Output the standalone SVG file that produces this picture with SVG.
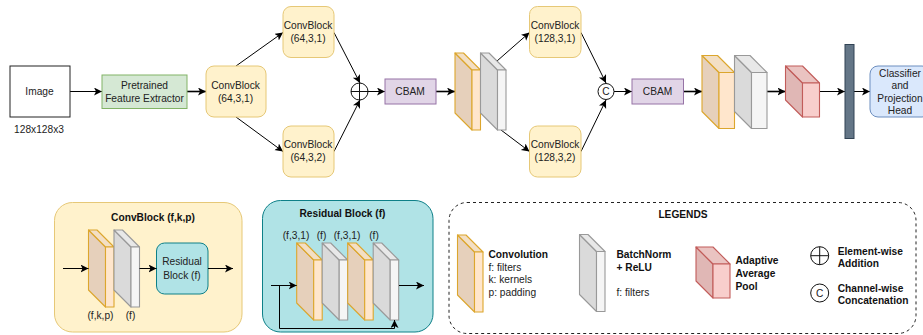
<svg xmlns="http://www.w3.org/2000/svg" width="923" height="335" viewBox="0 0 923 335">
<style>
text{font-family:"Liberation Sans",Arial,sans-serif;font-size:10.2px;fill:#222;text-anchor:middle}
.l{text-anchor:start}
.b{font-weight:bold;fill:#111}
.cb{fill:#fff2cc;stroke:#e6c877;stroke-width:1}
.line{fill:none;stroke:#000;stroke-width:1;marker-end:url(#a)}
.thick{stroke-width:1.6}
.co1{fill:#e6d0bb}.co2{fill:#f3dfc4}.co3{fill:#ffe6cc}
.co{stroke:#dca62d;stroke-width:1.1;stroke-linejoin:round}
.gr{stroke:#999;stroke-width:1.1;stroke-linejoin:round}
.re{stroke:#c25c5a;stroke-width:1.1;stroke-linejoin:round}
.circ{fill:#fff;stroke:#111;stroke-width:1}
</style>
<defs>
<marker id="a" markerUnits="userSpaceOnUse" markerWidth="10" markerHeight="10" refX="8" refY="4" orient="auto"><path d="M0 0L8 4L0 8L2 4Z" fill="#000"/></marker>
<g id="conv"><path class="co co1" d="M0 0L17 17V77L0 60Z"/><path class="co co2" d="M0 0H8.500L25.500 17H17Z"/><rect class="co co3" x="17" y="17" width="8.500" height="60"/></g>
<g id="gray"><path class="gr" fill="#dadada" d="M0 0L17 17V77L0 60Z"/><path class="gr" fill="#e8e8e8" d="M0 0H8.500L25.500 17H17Z"/><rect class="gr" fill="#f5f5f5" x="17" y="17" width="8.500" height="60"/></g>
<g id="conv2"><path class="co co1" d="M0 0L17 17V73L0 56Z"/><path class="co co2" d="M0 0H15.500L32.500 17H17Z"/><rect class="co co3" x="17" y="17" width="15.500" height="56"/></g>
<g id="gray2"><path class="gr" fill="#dadada" d="M0 0L17 17V73L0 56Z"/><path class="gr" fill="#e8e8e8" d="M0 0H15.500L32.500 17H17Z"/><rect class="gr" fill="#f5f5f5" x="17" y="17" width="15.500" height="56"/></g>
<g id="red"><path class="re" fill="#e0b7b5" d="M0 0L17 17V51L0 34Z"/><path class="re" fill="#eac3c1" d="M0 0H17L34 17H17Z"/><rect class="re" fill="#f8cecc" x="17" y="17" width="17" height="34"/></g>
</defs>

<g id="connectors">
<path class="line" d="M70 91.500H102"/>
<path class="line thick" d="M187 91.500H206"/>
<path class="line" d="M236 66L283 32.500"/>
<path class="line" d="M236 117L283 151.500"/>
<path class="line" d="M334 32.500L360 83"/>
<path class="line" d="M334 151.500L360 100"/>
<path class="line" d="M368 91.500H385"/>
<path class="line thick" d="M436 91.500H455"/>
<path class="line" d="M497 61L529.500 32.500"/>
<path class="line" d="M501 130L529.500 151.500"/>
<path class="line" d="M581 32.500L606 83"/>
<path class="line" d="M581 151.500L606 100"/>
<path class="line" d="M614 91.500H632"/>
<path class="line thick" d="M683.500 91.500H702"/>
<path class="line thick" d="M767 91.500H785.500"/>
<path class="line" d="M819.500 91.500H845"/>
<path class="line" d="M854 91.500H870"/>
</g>

<g id="image"><rect x="10" y="66" width="60" height="51" fill="#fff" stroke="#222" stroke-width="1"/><text x="39.500" y="95">Image</text><text x="39" y="133">128x128x3</text></g>
<g id="extractor"><rect x="102" y="75" width="85" height="33.500" fill="#d5e8d4" stroke="#82b366"/><text x="144.500" y="89">Pretrained</text><text x="144.500" y="102">Feature Extractor</text></g>
<g id="cb1"><rect class="cb" x="206" y="66" width="60" height="51" rx="8"/><text x="235.500" y="89">ConvBlock</text><text x="235.500" y="102">(64,3,1)</text></g>
<g id="cb2"><rect class="cb" x="283" y="6.500" width="51" height="51" rx="8"/><text x="308" y="29">ConvBlock</text><text x="308" y="42">(64,3,1)</text></g>
<g id="cb3"><rect class="cb" x="283" y="126" width="51" height="51" rx="8"/><text x="308" y="148">ConvBlock</text><text x="308" y="161">(64,3,2)</text></g>
<g id="add"><circle class="circ" cx="359.500" cy="91.500" r="8.500"/><path d="M351 91.500H368M359.500 83V100" stroke="#111" fill="none"/></g>
<g id="cbam1"><rect x="385" y="79" width="51" height="25" fill="#e1d5e7" stroke="#9673a6"/><text x="410" y="95">CBAM</text></g>
<use id="conv1" href="#conv" x="455" y="53"/>
<use id="bn1" href="#gray" x="480.500" y="53"/>
<g id="cb4"><rect class="cb" x="529.500" y="6.500" width="51.500" height="51" rx="8"/><text x="555" y="29">ConvBlock</text><text x="555" y="42">(128,3,1)</text></g>
<g id="cb5"><rect class="cb" x="529.500" y="126" width="51.500" height="51" rx="8"/><text x="555" y="148">ConvBlock</text><text x="555" y="161">(128,3,2)</text></g>
<g id="concat"><circle class="circ" cx="606" cy="91.500" r="8"/><text x="606" y="95">C</text></g>
<g id="cbam2"><rect x="632" y="79" width="51.500" height="25" fill="#e1d5e7" stroke="#9673a6"/><text x="657.500" y="95">CBAM</text></g>
<use id="conv3" href="#conv2" x="702" y="55.500"/>
<use id="bn3" href="#gray2" x="734.500" y="55.500"/>
<use id="pool" href="#red" x="785.500" y="66"/>
<rect id="bar" x="845" y="44.500" width="9" height="94" fill="#647687" stroke="#314354"/>
<g id="head"><rect x="870" y="66" width="60" height="51" rx="8" fill="#dae8fc" stroke="#6c8ebf"/><text x="900" y="77">Classifier</text><text x="900" y="89">and</text><text x="900" y="102">Projection</text><text x="900" y="114">Head</text></g>

<g id="convblock-panel">
<rect x="54.500" y="202.500" width="187.500" height="129.500" rx="18" fill="#fff2cc" stroke="#e6c877"/>
<text class="b" x="153" y="220.500">ConvBlock (f,k,p)</text>
<use href="#conv" x="88.500" y="230"/>
<use href="#gray" x="114" y="230"/>
<g><rect x="156.500" y="243" width="51.500" height="51" rx="8" fill="#b0e3e6" stroke="#0e8088"/><text x="182" y="265">Residual</text><text x="182" y="279">Block (f)</text></g>
<path class="line" d="M63 268.500H88.500"/>
<path class="line" d="M139.500 268.500H156.500"/>
<path class="line" d="M208 268.500H233"/>
<text x="100.500" y="318.500">(f,k,p)</text>
<text x="130.500" y="318.500">(f)</text>
</g>

<g id="residual-panel">
<rect x="262.500" y="200.500" width="170.500" height="131.500" rx="18" fill="#b0e3e6" stroke="#0e8088"/>
<text class="b" x="342.500" y="216.500">Residual Block (f)</text>
<text x="296" y="238.500">(f,3,1)</text><text x="321.500" y="238.500">(f)</text><text x="347" y="238.500">(f,3,1)</text><text x="374" y="238.500">(f)</text>
<use href="#conv" x="296.700" y="243"/>
<use href="#gray" x="322.200" y="243"/>
<use href="#conv" x="347.700" y="243"/>
<use href="#gray" x="373.200" y="243"/>
<path class="line" d="M271 285.500H296.700"/>
<path class="line" d="M399 285.500H424"/>
<path class="line" d="M279.500 285.500V328.500H394.500V320"/>
</g>

<g id="legend">
<rect x="449" y="202.500" width="467" height="131" rx="18" fill="#fff" stroke="#222" stroke-dasharray="3 3"/>
<text class="b" x="683" y="218">LEGENDS</text>
<use href="#conv" x="457.500" y="235"/>
<text class="b l" x="488.500" y="258">Convolution</text><text class="l" x="488.500" y="270.500">f: filters</text><text class="l" x="488.500" y="283">k: kernels</text><text class="l" x="488.500" y="295.500">p: padding</text>
<use href="#gray" x="579.500" y="234.500"/>
<text class="b l" x="616.500" y="258">BatchNorm</text><text class="b l" x="616.500" y="270.500">+ ReLU</text><text class="l" x="616.500" y="295.500">f: filters</text>
<use href="#red" x="696" y="247"/>
<text class="b l" x="735.500" y="264">Adaptive</text><text class="b l" x="735.500" y="276.500">Average</text><text class="b l" x="735.500" y="289.500">Pool</text>
<circle class="circ" cx="819.700" cy="255.700" r="9"/><path d="M810.700 255.700H828.700M819.700 246.700V264.700" stroke="#111" fill="none"/>
<text class="b l" x="837.700" y="254.500">Element-wise</text><text class="b l" x="837.700" y="266.500">Addition</text>
<circle class="circ" cx="819.700" cy="293" r="9"/><text x="819.700" y="296.500">C</text>
<text class="b l" x="837.700" y="291.500">Channel-wise</text><text class="b l" x="837.700" y="303.500">Concatenation</text>
</g>
</svg>
